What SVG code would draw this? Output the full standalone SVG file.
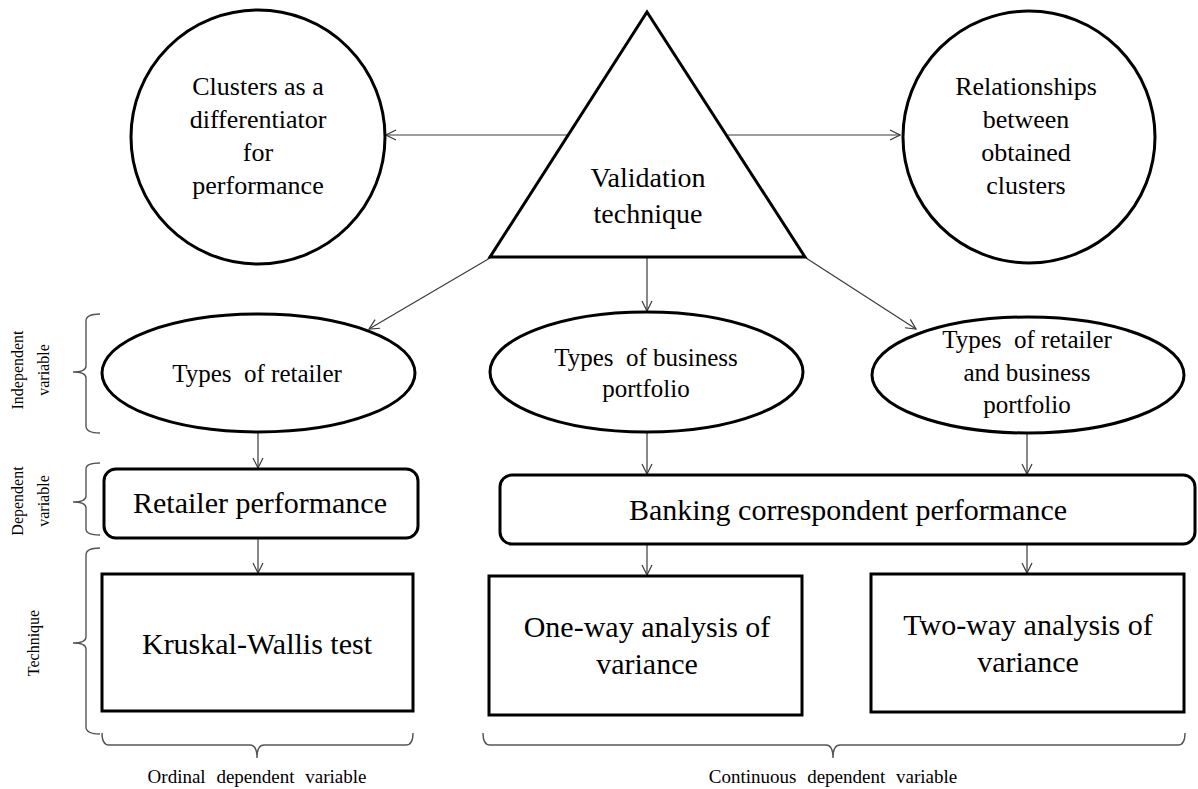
<svg xmlns="http://www.w3.org/2000/svg" width="1198" height="789" viewBox="0 0 1198 789" font-family="'Liberation Serif', 'DejaVu Serif', serif">
  <style>
    .shape { fill: #ffffff; stroke: #000000; stroke-width: 3; }
    .conn { fill: none; stroke: #3a3a3a; stroke-width: 1.2; marker-end: url(#arrow); }
    .brace { fill: none; stroke: #555555; stroke-width: 1.4; }
    text { font-family: 'Liberation Serif', 'DejaVu Serif', serif; fill: #000000; text-anchor: middle; }
    .t26 { font-size: 26px; }
    .t28 { font-size: 28px; }
    .t25 { font-size: 25px; }
    .t30 { font-size: 30px; }
    .side { font-size: 16px; }
    .foot { font-size: 19px; word-spacing: 6px; }
  </style>
  <defs>
    <marker id="arrow" viewBox="0 0 12 12" refX="11" refY="6" markerWidth="12" markerHeight="12" markerUnits="userSpaceOnUse" orient="auto">
      <path d="M1,1 L11,6 L1,11" fill="none" stroke="#3a3a3a" stroke-width="1.2"/>
    </marker>
  </defs>

  <!-- connectors -->
  <g id="connectors">
    <line class="conn" x1="567" y1="135" x2="386" y2="135"/>
    <line class="conn" x1="728" y1="135" x2="900" y2="135"/>
    <line class="conn" x1="490" y1="258" x2="369" y2="329"/>
    <line class="conn" x1="647" y1="258" x2="647" y2="311"/>
    <line class="conn" x1="806" y1="258" x2="916" y2="329"/>
    <line class="conn" x1="258" y1="432" x2="258" y2="468"/>
    <line class="conn" x1="647" y1="432" x2="647" y2="474"/>
    <line class="conn" x1="1027" y1="433" x2="1027" y2="474"/>
    <line class="conn" x1="258" y1="538" x2="258" y2="573"/>
    <line class="conn" x1="647" y1="544" x2="647" y2="575"/>
    <line class="conn" x1="1027" y1="544" x2="1027" y2="573"/>
  </g>

  <!-- top row -->
  <g id="clusters-differentiator">
    <circle class="shape" cx="258" cy="137" r="127"/>
    <text class="t26" x="258" y="95">Clusters as a</text>
    <text class="t26" x="258" y="128">differentiator</text>
    <text class="t26" x="258" y="161">for</text>
    <text class="t26" x="258" y="194">performance</text>
  </g>

  <g id="validation-technique">
    <polygon class="shape" points="647,12 805,257 490,257"/>
    <text class="t28" x="648" y="187">Validation</text>
    <text class="t28" x="648" y="223">technique</text>
  </g>

  <g id="cluster-relationships">
    <circle class="shape" cx="1029" cy="137" r="126"/>
    <text class="t26" x="1026" y="95">Relationships</text>
    <text class="t26" x="1026" y="128">between</text>
    <text class="t26" x="1026" y="161">obtained</text>
    <text class="t26" x="1026" y="194">clusters</text>
  </g>

  <!-- independent variables -->
  <g id="types-retailer">
    <ellipse class="shape" cx="258.5" cy="373" rx="156.5" ry="59"/>
    <text class="t25" x="257" y="382" xml:space="preserve">Types  of retailer</text>
  </g>

  <g id="types-portfolio">
    <ellipse class="shape" cx="646.5" cy="372" rx="156.5" ry="60"/>
    <text class="t25" x="646" y="366" xml:space="preserve">Types  of business</text>
    <text class="t25" x="646" y="397">portfolio</text>
  </g>

  <g id="types-retailer-portfolio">
    <ellipse class="shape" cx="1028" cy="375" rx="156" ry="58"/>
    <text class="t25" x="1027" y="348" xml:space="preserve">Types  of retailer</text>
    <text class="t25" x="1027" y="381">and business</text>
    <text class="t25" x="1027" y="413">portfolio</text>
  </g>

  <!-- dependent variables -->
  <g id="retailer-performance">
    <rect class="shape" x="104" y="469" width="314" height="69" rx="12"/>
    <text class="t30" x="260" y="513">Retailer performance</text>
  </g>

  <g id="banking-performance">
    <rect class="shape" x="500" y="475" width="695" height="69" rx="12"/>
    <text class="t30" x="848" y="520">Banking correspondent performance</text>
  </g>

  <!-- techniques -->
  <g id="kruskal-wallis">
    <rect class="shape" x="102" y="574" width="311" height="137"/>
    <text class="t30" x="257" y="654">Kruskal-Wallis test</text>
  </g>

  <g id="one-way-anova">
    <rect class="shape" x="489" y="576" width="313" height="139"/>
    <text class="t30" x="647" y="637">One-way analysis of</text>
    <text class="t30" x="647" y="674">variance</text>
  </g>

  <g id="two-way-anova">
    <rect class="shape" x="871" y="574" width="313" height="138"/>
    <text class="t30" x="1028" y="635">Two-way analysis of</text>
    <text class="t30" x="1028" y="672">variance</text>
  </g>

  <!-- row braces and labels -->
  <g id="independent-label">
    <path class="brace" d="M100,314 Q86,314 86,321 L86,366 Q86,372 73,372 Q86,372 86,378 L86,426 Q86,433 100,433"/>
    <text class="side" transform="translate(23,370) rotate(-90)">Independent</text>
    <text class="side" transform="translate(49,370) rotate(-90)">variable</text>
  </g>

  <g id="dependent-label">
    <path class="brace" d="M100,463 Q86,463 86,469 L86,496 Q86,502 73,502 Q86,502 86,508 L86,529 Q86,535 100,535"/>
    <text class="side" transform="translate(23,501) rotate(-90)">Dependent</text>
    <text class="side" transform="translate(49,501) rotate(-90)">variable</text>
  </g>

  <g id="technique-label">
    <path class="brace" d="M100,548 Q86,548 86,555 L86,637 Q86,643 73,643 Q86,643 86,649 L86,727 Q86,734 100,734"/>
    <text class="side" transform="translate(39,643) rotate(-90)">Technique</text>
  </g>

  <!-- column braces and labels -->
  <g id="ordinal-label">
    <path class="brace" d="M102,733 Q102,745 109,745 L250,745 Q257,745 257,758 Q257,745 264,745 L406,745 Q413,745 413,733"/>
    <text class="foot" x="257" y="783">Ordinal dependent variable</text>
  </g>

  <g id="continuous-label">
    <path class="brace" d="M483,733 Q483,745 490,745 L826,745 Q833,745 833,758 Q833,745 840,745 L1178,745 Q1185,745 1185,733"/>
    <text class="foot" x="833" y="783">Continuous dependent variable</text>
  </g>
</svg>
